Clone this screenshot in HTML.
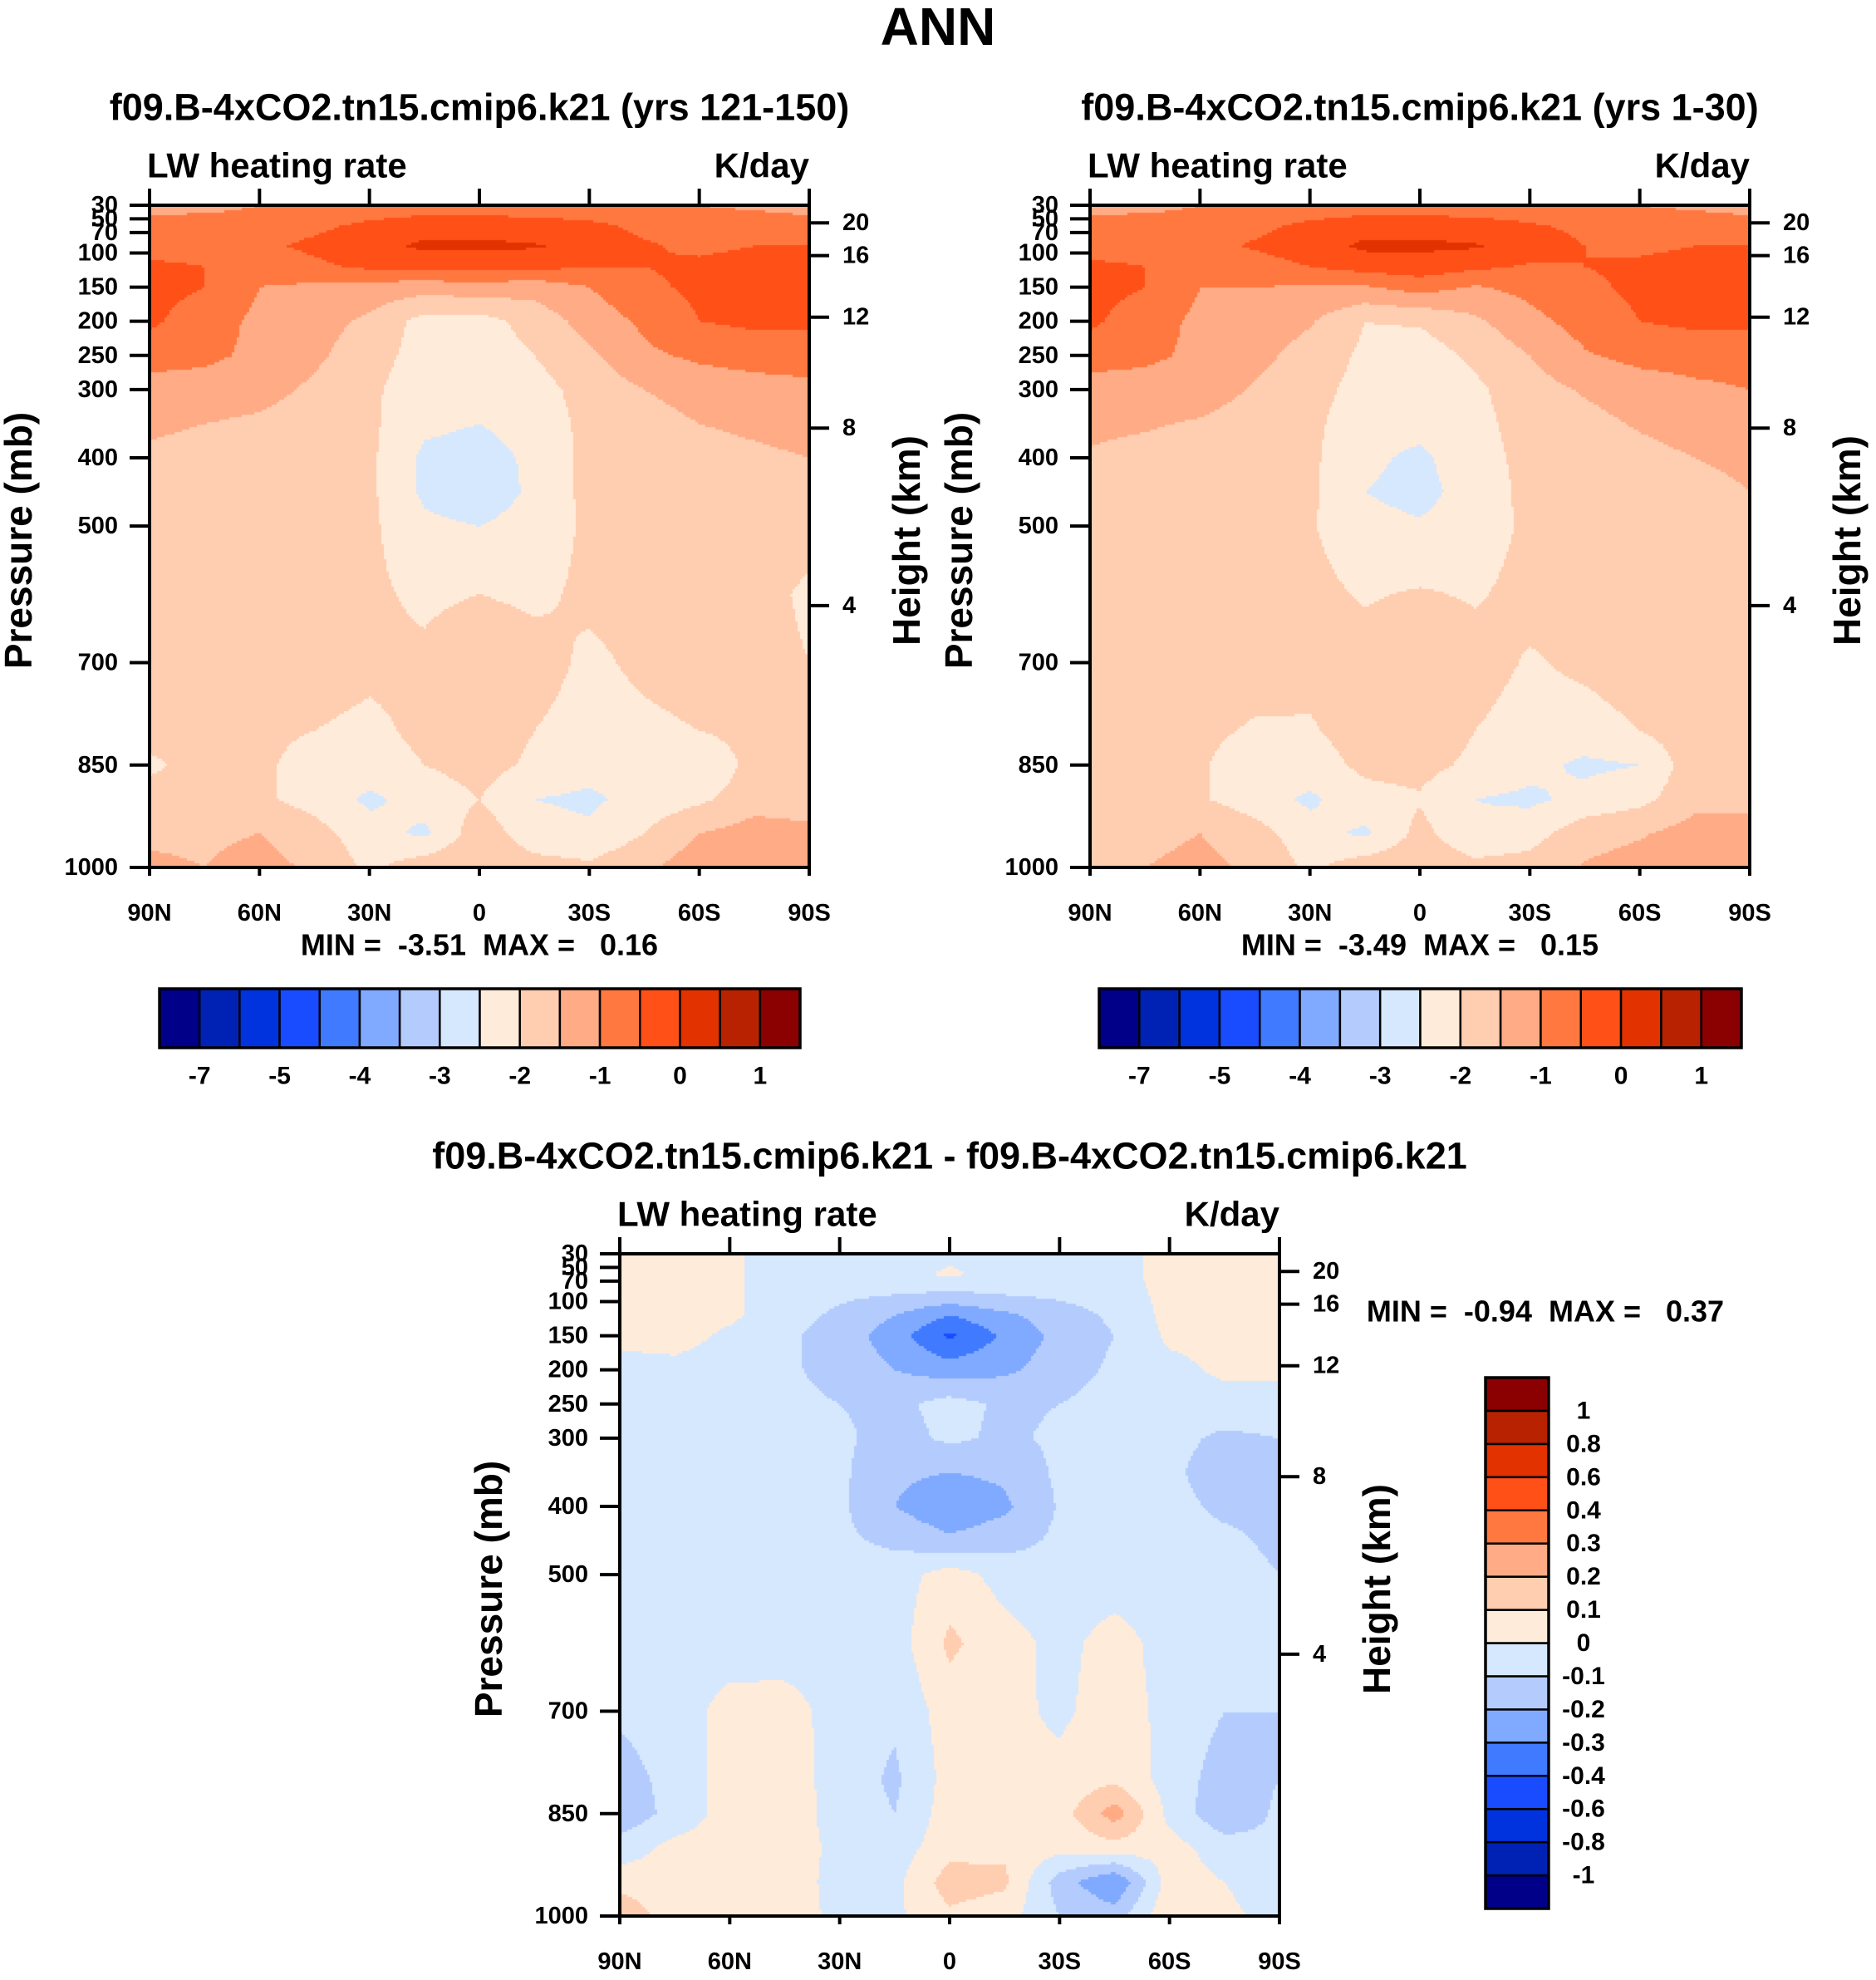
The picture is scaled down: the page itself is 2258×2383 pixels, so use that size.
<!DOCTYPE html>
<html><head><meta charset="utf-8"><style>
html,body{margin:0;padding:0;background:#fff;}
#root{position:relative;width:2258px;height:2383px;overflow:hidden;font-family:"Liberation Sans",Arial,sans-serif;}
canvas{position:absolute;}
svg{position:absolute;left:0;top:0;}
text{font-family:"Liberation Sans",Arial,sans-serif;font-weight:bold;fill:#000;white-space:pre;}
</style></head><body>
<div id="root">
<canvas id="c1"></canvas>
<canvas id="c2"></canvas>
<canvas id="c3"></canvas>
<svg id="s" width="2258" height="2383"></svg>
</div>
<script>
const lats = ["90N","75N","60N","45N","30N","15N","0","15S","30S","45S","60S","75S","90S"];
const latTicks = ["90N","60N","30N","0","30S","60S","90S"];
const pLevels = [30,60,90,120,150,200,250,300,350,400,450,500,600,700,800,850,900,950,1000];
const pTicks = [30,50,70,100,150,200,250,300,400,500,700,850,1000];
const hTicks = ["20","16","12","8","4"];
const hTickFrac = [0.0266,0.076,0.169,0.3365,0.6046];
const colors = ["#000088","#0022b4","#0033dd","#1a4cff","#3f7aff","#80aaff","#b4ccfd","#d6e8fe","#ffebd9","#ffcdb0","#ffab85","#ff7840","#ff5018","#e23200","#b82200","#8b0000"];
const levelsAbs = [-7,-6,-5,-4.5,-4,-3.5,-3,-2.5,-2,-1.5,-1,-0.5,0,0.5,1];
const labelsAbs = ["-7","","-5","","-4","","-3","","-2","","-1","","0","","1"];
const levelsDiff = [-1,-0.8,-0.6,-0.4,-0.3,-0.2,-0.1,0,0.1,0.2,0.3,0.4,0.6,0.8,1];
const labelsDiff = ["-1","-0.8","-0.6","-0.4","-0.3","-0.2","-0.1","0","0.1","0.2","0.3","0.4","0.6","0.8","1"];
const field1 = [
[-1.2,-1.2,-1.0,-0.9,-0.8,-0.8,-0.8,-0.8,-0.8,-0.9,-1.0,-1.1,-1.2],
[-0.8,-0.7,-0.7,-0.6,-0.4,-0.2,-0.2,-0.3,-0.4,-0.6,-0.7,-0.7,-0.8],
[-0.7,-0.7,-0.6,-0.4,-0.2,0.1,0.1,0.05,-0.2,-0.45,-0.6,-0.5,-0.5],
[-0.4,-0.5,-0.8,-0.6,-0.4,-0.35,-0.35,-0.4,-0.45,-0.5,-0.4,-0.3,-0.3],
[-0.3,-0.5,-1.0,-1.1,-1.2,-1.3,-1.2,-1.3,-1.0,-0.6,-0.4,-0.3,-0.3],
[-0.4,-0.8,-1.1,-1.3,-1.6,-2.2,-2.2,-1.8,-1.3,-0.9,-0.5,-0.4,-0.4],
[-0.8,-0.9,-1.1,-1.4,-1.8,-2.2,-2.3,-2.0,-1.6,-1.1,-0.9,-0.8,-0.8],
[-1.2,-1.2,-1.3,-1.6,-1.9,-2.3,-2.4,-2.2,-1.8,-1.5,-1.3,-1.2,-1.1],
[-1.4,-1.5,-1.6,-1.8,-1.9,-2.4,-2.5,-2.3,-1.85,-1.7,-1.5,-1.4,-1.3],
[-1.6,-1.7,-1.8,-1.85,-1.9,-2.6,-2.7,-2.4,-1.85,-1.8,-1.7,-1.6,-1.5],
[-1.7,-1.8,-1.8,-1.85,-1.9,-2.6,-2.8,-2.4,-1.85,-1.85,-1.8,-1.7,-1.6],
[-1.7,-1.8,-1.8,-1.85,-1.9,-2.4,-2.5,-2.3,-1.9,-1.85,-1.8,-1.7,-1.8],
[-1.7,-1.8,-1.8,-1.8,-1.9,-2.1,-2.0,-2.1,-1.9,-1.8,-1.8,-1.8,-2.1],
[-1.7,-1.8,-1.8,-1.8,-1.9,-1.9,-1.6,-1.8,-2.1,-1.9,-1.8,-1.8,-2.0],
[-1.8,-1.8,-1.9,-2.0,-2.1,-1.9,-1.7,-2.0,-2.2,-2.1,-2.0,-1.8,-1.9],
[-2.1,-1.8,-1.9,-2.2,-2.2,-2.0,-1.8,-2.1,-2.3,-2.4,-2.5,-1.8,-1.8],
[-1.8,-1.8,-1.9,-2.2,-2.6,-2.3,-2.0,-2.5,-2.6,-2.3,-2.1,-1.7,-1.7],
[-1.6,-1.6,-1.5,-1.8,-2.3,-2.6,-1.7,-2.3,-2.4,-2.0,-1.5,-1.3,-1.4],
[-1.4,-1.5,-1.3,-1.6,-2.1,-1.7,-1.5,-1.8,-1.9,-1.6,-1.2,-1.1,-1.3]];
const field2 = [
[-1.2,-1.2,-1.0,-0.9,-0.8,-0.8,-0.8,-0.8,-0.8,-0.9,-1.0,-1.1,-1.2],
[-0.8,-0.7,-0.7,-0.6,-0.4,-0.2,-0.2,-0.3,-0.45,-0.6,-0.7,-0.7,-0.8],
[-0.7,-0.7,-0.65,-0.45,-0.25,0.1,0.1,0.05,-0.25,-0.5,-0.6,-0.5,-0.5],
[-0.4,-0.5,-0.85,-0.7,-0.5,-0.3,-0.2,-0.4,-0.55,-0.5,-0.4,-0.3,-0.3],
[-0.3,-0.5,-1.0,-1.0,-1.05,-1.05,-0.8,-1.05,-0.85,-0.6,-0.4,-0.3,-0.3],
[-0.4,-0.8,-1.1,-1.2,-1.45,-2.0,-1.95,-1.6,-1.15,-0.8,-0.5,-0.4,-0.4],
[-0.8,-0.9,-1.1,-1.35,-1.7,-2.1,-2.25,-1.9,-1.5,-1.05,-0.85,-0.8,-0.8],
[-1.2,-1.2,-1.25,-1.55,-1.85,-2.15,-2.3,-2.1,-1.7,-1.45,-1.25,-1.1,-1.0],
[-1.4,-1.45,-1.55,-1.75,-1.9,-2.25,-2.35,-2.15,-1.8,-1.65,-1.45,-1.3,-1.2],
[-1.55,-1.65,-1.75,-1.85,-1.9,-2.4,-2.6,-2.2,-1.85,-1.75,-1.65,-1.5,-1.4],
[-1.65,-1.75,-1.75,-1.85,-1.9,-2.5,-2.65,-2.3,-1.85,-1.85,-1.75,-1.65,-1.5],
[-1.65,-1.75,-1.75,-1.85,-1.95,-2.35,-2.45,-2.25,-1.9,-1.85,-1.75,-1.65,-1.7],
[-1.65,-1.75,-1.75,-1.75,-1.85,-2.05,-1.95,-2.05,-1.85,-1.75,-1.75,-1.75,-2.0],
[-1.6,-1.75,-1.8,-1.8,-1.85,-1.8,-1.55,-1.8,-2.05,-1.9,-1.75,-1.7,-1.9],
[-1.65,-1.75,-1.9,-2.05,-2.05,-1.8,-1.7,-2.0,-2.2,-2.2,-2.0,-1.7,-1.8],
[-1.9,-1.75,-1.95,-2.25,-2.2,-1.9,-1.85,-2.1,-2.35,-2.6,-2.5,-1.7,-1.7],
[-1.75,-1.8,-1.95,-2.25,-2.6,-2.15,-2.05,-2.5,-2.6,-2.35,-2.15,-1.65,-1.6],
[-1.65,-1.65,-1.5,-1.8,-2.3,-2.6,-1.85,-2.4,-2.2,-1.7,-1.55,-1.3,-1.35],
[-1.6,-1.5,-1.35,-1.6,-2.1,-1.7,-1.6,-1.85,-1.8,-1.45,-1.3,-1.1,-1.25]];
const field3 = [
[0.02,0.03,0.02,-0.05,-0.05,-0.05,-0.03,-0.05,-0.05,-0.03,0.03,0.03,0.03],
[0.03,0.03,0.02,-0.05,-0.06,-0.05,0.02,-0.05,-0.06,-0.03,0.03,0.03,0.03],
[0.03,0.05,0.02,-0.05,-0.08,-0.1,-0.12,-0.1,-0.08,-0.05,0.03,0.03,0.03],
[0.03,0.04,0.02,-0.06,-0.12,-0.2,-0.3,-0.22,-0.15,-0.08,0.03,0.03,0.03],
[0.02,0.04,-0.02,-0.08,-0.15,-0.25,-0.42,-0.28,-0.17,-0.1,0.02,0.03,0.03],
[-0.03,-0.03,-0.05,-0.08,-0.14,-0.2,-0.25,-0.22,-0.15,-0.08,-0.03,0.02,0.02],
[-0.05,-0.05,-0.06,-0.07,-0.1,-0.13,-0.06,-0.12,-0.1,-0.06,-0.05,-0.04,-0.04],
[-0.05,-0.05,-0.06,-0.07,-0.08,-0.14,-0.08,-0.12,-0.08,-0.06,-0.07,-0.12,-0.1],
[-0.05,-0.05,-0.06,-0.07,-0.08,-0.18,-0.2,-0.18,-0.08,-0.06,-0.08,-0.15,-0.12],
[-0.05,-0.05,-0.06,-0.07,-0.08,-0.2,-0.28,-0.22,-0.09,-0.06,-0.07,-0.12,-0.12],
[-0.05,-0.05,-0.06,-0.07,-0.08,-0.12,-0.18,-0.14,-0.08,-0.06,-0.06,-0.08,-0.12],
[-0.05,-0.05,-0.06,-0.07,-0.06,-0.05,0.05,-0.04,-0.06,-0.05,-0.05,-0.06,-0.1],
[-0.06,-0.05,-0.04,-0.05,-0.04,-0.05,0.12,0.04,-0.03,0.04,-0.04,-0.07,-0.1],
[-0.08,-0.04,0.03,0.04,-0.04,-0.08,0.05,0.03,-0.02,0.05,-0.03,-0.1,-0.1],
[-0.15,-0.06,0.04,0.05,-0.04,-0.12,0.04,0.03,0.03,0.08,-0.04,-0.15,-0.1],
[-0.18,-0.06,0.04,0.04,-0.03,-0.1,0.05,0.02,0.05,0.25,-0.03,-0.18,-0.08],
[-0.05,0.03,0.04,0.04,-0.02,-0.05,0.06,0.08,0.03,0.06,0.04,-0.05,-0.08],
[0.05,0.03,0.02,0.03,-0.02,-0.03,0.15,0.12,-0.15,-0.3,0.05,0.0,-0.05],
[0.2,0.02,0.02,0.02,-0.01,-0.02,0.08,0.04,-0.1,-0.15,0.08,0.02,-0.03]];

const NS="http://www.w3.org/2000/svg";
const svg=document.getElementById('s');
function el(tag,attrs,parent){const e=document.createElementNS(NS,tag);for(const k in attrs)e.setAttribute(k,attrs[k]);(parent||svg).appendChild(e);return e;}
function txt(x,y,s,size,anchor,parent){const t=el('text',{x:x,y:y,'font-size':size,'text-anchor':anchor||'middle','dominant-baseline':'central'},parent);t.textContent=s;return t;}
function colorFor(v,levels){let i=0;while(i<levels.length&&v>=levels[i])i++;return colors[i];}
function sample(field,fx,p){
  const nx=lats.length-1;let x=fx*nx;let i=Math.min(Math.floor(x),nx-1);let tx=x-i;
  let j=0;while(j<pLevels.length-2&&p>pLevels[j+1])j++;
  let ty=(p-pLevels[j])/(pLevels[j+1]-pLevels[j]);ty=Math.max(0,Math.min(1,ty));
  const a=field[j][i],b=field[j][i+1],c=field[j+1][i],d=field[j+1][i+1];
  return a*(1-tx)*(1-ty)+b*tx*(1-ty)+c*(1-tx)*ty+d*tx*ty;}

function panel(id,field,levels,L,T,W,H,title,name){
  const cv=document.getElementById(id);cv.width=W;cv.height=H;cv.style.left=L+'px';cv.style.top=T+'px';
  const ctx=cv.getContext('2d');const st=3;
  for(let y=0;y<H;y+=st){const p=30+(y+st/2)/H*970;
    for(let x=0;x<W;x+=st){ctx.fillStyle=colorFor(sample(field,(x+st/2)/W,p),levels);ctx.fillRect(x,y,st,st);}}
  const g=el('g',{});
  
  
  el('rect',{x:L,y:T,width:W,height:H,fill:'none',stroke:'#000','stroke-width':4},g);
  const yOf=p=>T+(p-30)/970*H;
  pTicks.forEach(p=>{const y=yOf(p);el('line',{x1:L-24,x2:L,y1:y,y2:y,stroke:'#000','stroke-width':4},g);
    const t=txt(L-38,y,String(p),29,'end',g);});
  hTicks.forEach((h,k)=>{const y=T+hTickFrac[k]*H;el('line',{x1:L+W,x2:L+W+24,y1:y,y2:y,stroke:'#000','stroke-width':4},g);
    txt(L+W+40,y,h,29,'start',g);});
  latTicks.forEach((s,k)=>{const x=L+k/(latTicks.length-1)*W;
    el('line',{x1:x,x2:x,y1:T,y2:T-20,stroke:'#000','stroke-width':4},g);
    el('line',{x1:x,x2:x,y1:T+H,y2:T+H+10,stroke:'#000','stroke-width':4},g);
    const t=txt(x,T+H+55,s,29,'middle',g);
  });
  const pt=txt(L+W/2,T-118,title,45,'middle');
  const lt=txt(L-3,T-48,'LW heating rate',42,'start');
  const ut=txt(L+W,T-48,'K/day',42,'end');
  const yt=txt(0,0,'Pressure (mb)',46,'middle');yt.setAttribute('transform',`translate(${L-158},${T+H/2+5}) rotate(-90)`);
  
  const ht=txt(0,0,'Height (km)',46,'middle');ht.setAttribute('transform',`translate(${L+W+117},${T+H/2+5}) rotate(-90)`);
  
}
function hbar(L,T,W,H,labels){
  const g=el('g',{});
  const bw=W/colors.length;
  colors.forEach((c,i)=>el('rect',{x:L+i*bw,y:T,width:bw,height:H,fill:c,stroke:'#000','stroke-width':2.5},g));
  el('rect',{x:L,y:T,width:W,height:H,fill:'none',stroke:'#000','stroke-width':3.5},g);
  labels.forEach((s,i)=>{if(s)txt(L+(i+1)*bw,T+H+34,s,30,'middle',g);});
}
function vbar(L,T,W,H,labels){
  const g=el('g',{});
  const bh=H/colors.length;
  colors.forEach((c,i)=>el('rect',{x:L,y:T+H-(i+1)*bh,width:W,height:bh,fill:c,stroke:'#000','stroke-width':2.5},g));
  el('rect',{x:L,y:T,width:W,height:H,fill:'none',stroke:'#000','stroke-width':3.5},g);
  labels.forEach((s,i)=>{txt(L+W+42,T+H-(i+1)*bh,s,30,'middle',g);});
}
const ann=txt(1129,32,'ANN',64,'middle');
panel('c1',field1,levelsAbs,180,247,794,797,'f09.B-4xCO2.tn15.cmip6.k21 (yrs 121-150)','panel-1');
panel('c2',field2,levelsAbs,1312,247,794,797,'f09.B-4xCO2.tn15.cmip6.k21 (yrs 1-30)','panel-2');
panel('c3',field3,levelsDiff,746,1509,794,797,'f09.B-4xCO2.tn15.cmip6.k21 - f09.B-4xCO2.tn15.cmip6.k21','panel-diff');
const m1=txt(577,1137,'MIN =  -3.51  MAX =   0.16',36,'middle');
const m2=txt(1709,1137,'MIN =  -3.49  MAX =   0.15',36,'middle');
const m3=txt(1860,1578,'MIN =  -0.94  MAX =   0.37',36,'middle');
hbar(192,1190,771,71,labelsAbs);
hbar(1323,1190,773,71,labelsAbs);
vbar(1788,1658,76,639,labelsDiff);
</script>
</body></html>
